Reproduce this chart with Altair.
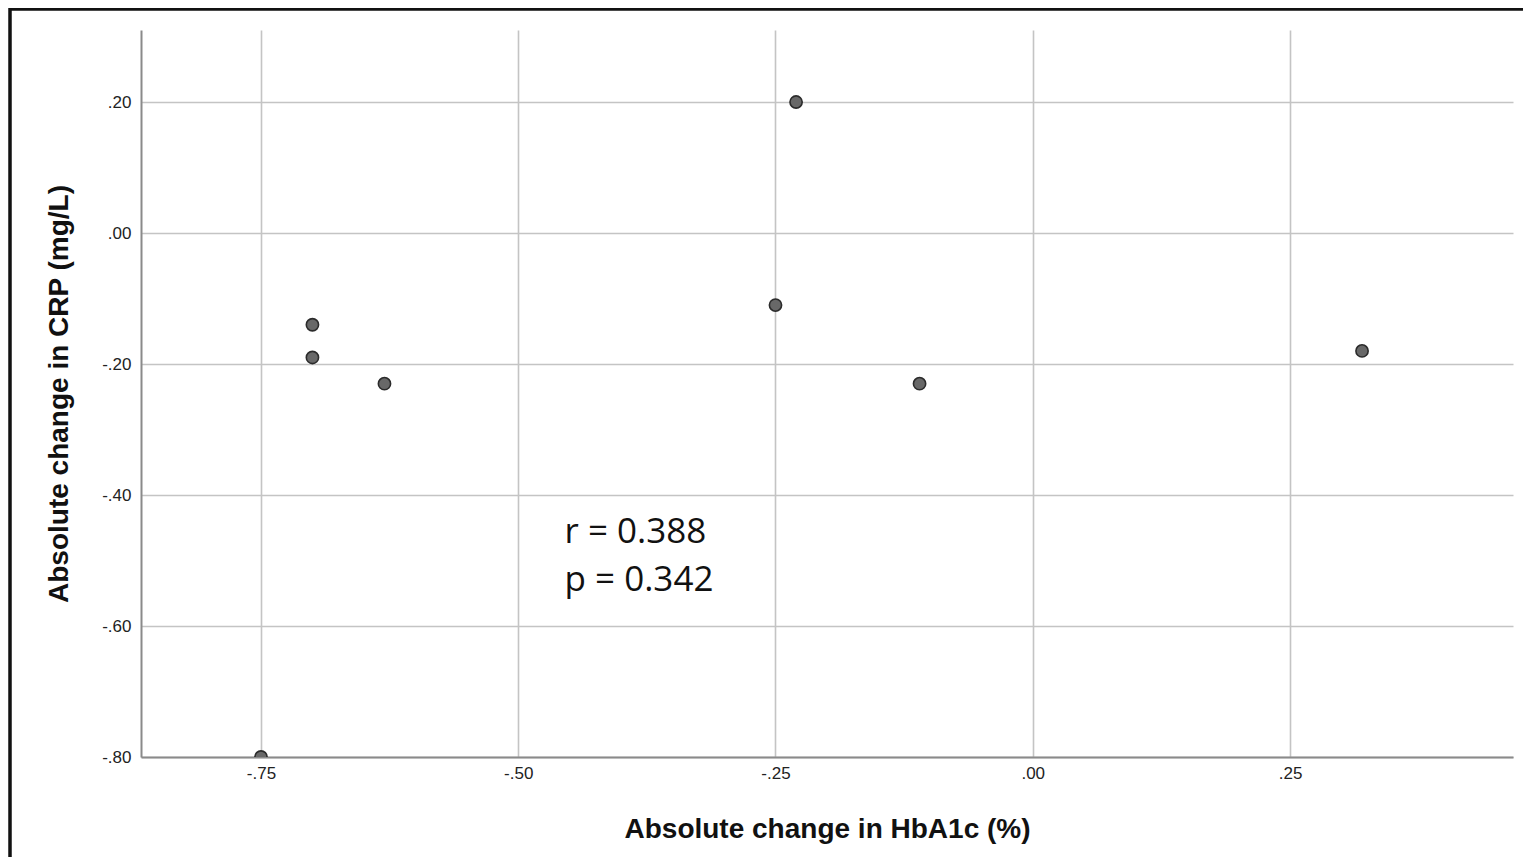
import altair as alt
import pandas as pd

# data
hba1c_change = [-0.75, -0.70, -0.70, -0.63, -0.25, -0.23, -0.11, 0.32]
crp_change = [-0.80, -0.14, -0.19, -0.23, -0.11, 0.20, -0.23, -0.18]

x_ticks = [-0.75, -0.50, -0.25, 0.00, 0.25]
y_ticks = [-0.80, -0.60, -0.40, -0.20, 0.00, 0.20]
x_domain = [-0.8666, 0.4667]
y_domain = [-0.80, 0.31]

annot_lines = ["r = 0.388", "p = 0.342"]
annot_x = [-0.455, -0.455]
annot_y = [-0.456, -0.530]

df = pd.DataFrame({"x": hba1c_change, "y": crp_change})
ann = pd.DataFrame({"x": annot_x, "y": annot_y, "t": annot_lines})

W, H = 1372, 727

label_expr = "replace(replace(format(datum.value, '.2f'), '0.', '.'), '\u2212', '-')"

xscale = alt.Scale(domain=x_domain, nice=False, zero=False)
yscale = alt.Scale(domain=y_domain, nice=False, zero=False)

points = alt.Chart(df).mark_circle(
    size=150, color="#686868", stroke="#2b2b2b", strokeWidth=1.6, opacity=1, clip=True
).encode(
    x=alt.X("x:Q", scale=xscale,
            axis=alt.Axis(values=x_ticks, labelExpr=label_expr, title="Absolute change in HbA1c (%)",
                          titlePadding=34)),
    y=alt.Y("y:Q", scale=yscale,
            axis=alt.Axis(values=y_ticks, labelExpr=label_expr, title="Absolute change in CRP (mg/L)",
                          titlePadding=28)),
)

text = alt.Chart(ann).mark_text(
    align="left", baseline="middle", font="Open Sans", fontSize=35, color="#111111"
).encode(
    x=alt.X("x:Q", scale=xscale),
    y=alt.Y("y:Q", scale=yscale),
    text="t:N",
)

frame_top = alt.Chart(ann).mark_rule(color="#111111", strokeWidth=3).encode(
    x=alt.value(-131), x2=alt.value(W + 60), y=alt.value(-21)
)
frame_left = alt.Chart(ann).mark_rule(color="#111111", strokeWidth=3).encode(
    x=alt.value(-131), y=alt.value(-22), y2=alt.value(H + 120)
)

chart = alt.layer(points, text, frame_top, frame_left).properties(
    width=W, height=H,
    autosize=alt.AutoSizeParams(type="none"),
    padding={"left": 133, "top": 22, "right": 10, "bottom": 100},
).configure_view(stroke=None).configure_axis(
    grid=True, gridColor="#c4c4c4", gridWidth=1.6,
    domain=True, domainColor="#8a8a8a", domainWidth=2,
    ticks=False,
    labelFont="Liberation Sans", labelFontSize=17, labelColor="#222222",
    titleFont="Liberation Sans", titleFontSize=28, titleFontWeight="bold", titleColor="#111111",
).configure_axisX(labelPadding=8).configure_axisY(labelPadding=10)

chart.save("out.html", embed_options={"renderer": "svg", "actions": False})
